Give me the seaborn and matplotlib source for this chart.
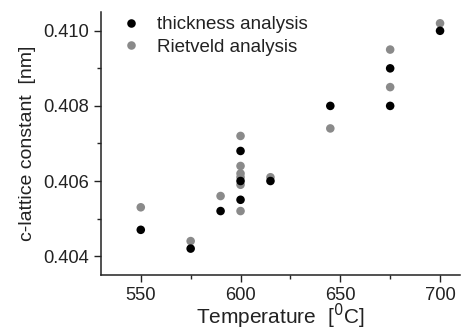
import matplotlib
matplotlib.use("Agg")
import matplotlib.pyplot as plt
import seaborn as sns
import pandas as pd
from matplotlib.ticker import MultipleLocator

thick_T = [550, 575, 590, 600, 600, 600, 615, 645, 675, 675, 700]
thick_c = [0.4047, 0.4042, 0.4052, 0.4068, 0.4055, 0.4060, 0.4060, 0.4080, 0.4090, 0.4080, 0.4100]
riet_T = [550, 575, 590, 600, 600, 600, 600, 600, 600, 615, 645, 675, 675, 700]
riet_c = [0.4053, 0.4044, 0.4056, 0.4072, 0.4064, 0.4062, 0.4061, 0.4059, 0.4052, 0.4061, 0.4074, 0.4095, 0.4085, 0.4102]

labels = ["thickness analysis", "Rietveld analysis"]

df = pd.concat([
    pd.DataFrame({"T": thick_T, "c": thick_c, "method": labels[0]}),
    pd.DataFrame({"T": riet_T, "c": riet_c, "method": labels[1]}),
])
# draw Rietveld first then thickness on top
df = pd.concat([df[df.method == labels[1]], df[df.method == labels[0]]])

sns.set_style("ticks")
plt.rcParams['font.family'] = ['Liberation Sans', 'DejaVu Sans']

fig = plt.figure(figsize=(4.67, 3.34), dpi=100)
ax = fig.add_axes([0.216, 0.177, 0.769, 0.787])
sns.scatterplot(data=df, x="T", y="c", hue="method", hue_order=labels,
                palette={labels[0]: "#000000", labels[1]: "#8a8a8a"},
                s=38, linewidth=0, ax=ax)

ax.set_xlim(530, 710)
ax.set_ylim(0.4035, 0.4105)
ax.xaxis.set_major_locator(MultipleLocator(50))
ax.xaxis.set_minor_locator(MultipleLocator(25))
ax.yaxis.set_major_locator(MultipleLocator(0.002))
ax.yaxis.set_minor_locator(MultipleLocator(0.001))
ax.yaxis.set_major_formatter(matplotlib.ticker.FormatStrFormatter('%.3f'))
ax.tick_params(which='major', direction='out', length=5, width=1, labelsize=13.2, colors='#222222')
ax.tick_params(which='minor', direction='out', length=3, width=1)
for s in ['top', 'right']:
    ax.spines[s].set_visible(False)
for s in ['left', 'bottom']:
    ax.spines[s].set_linewidth(1.1)
    ax.spines[s].set_color('#222222')

ax.set_xlabel("Temperature  [$^0$C]", fontsize=15, color='#222222', labelpad=-1)
ax.set_ylabel("c-lattice constant  [nm]", fontsize=14, color='#222222', labelpad=5)

leg = ax.legend(loc='upper left', frameon=False, fontsize=13.5, handletextpad=0.8,
                handlelength=1.2, borderaxespad=0.0, bbox_to_anchor=(0.031, 1.012),
                labelspacing=0.28, markerscale=1.0)
for t in leg.get_texts():
    t.set_color('#222222')

fig.savefig("out.png", dpi=100)
